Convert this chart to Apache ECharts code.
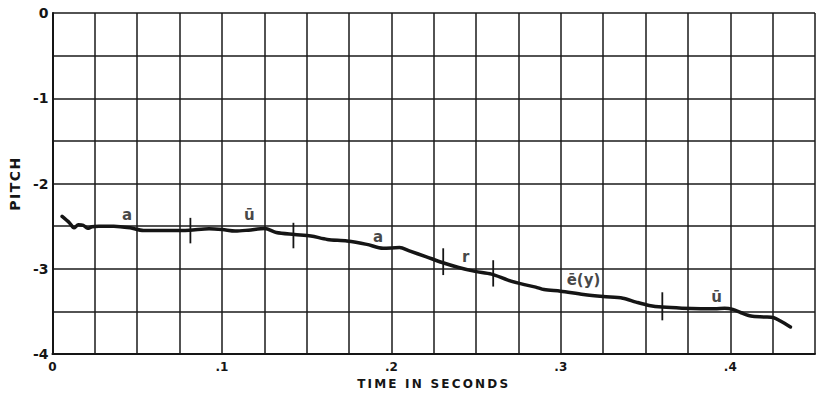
<!DOCTYPE html>
<html>
<head>
<meta charset="utf-8">
<script src="https://cdn.jsdelivr.net/npm/echarts@6/dist/echarts.min.js"></script>
<style>
  html, body { margin: 0; padding: 0; background: #fff; }
  #chart { width: 818px; height: 395px; }
</style>
</head>
<body>
<div id="chart"></div>
<script>
// Pitch contour (time in seconds, pitch level)
const times = [
  0.0057, 0.0101, 0.0127, 0.0153, 0.0182, 0.0208, 0.0234, 0.0275, 0.0362, 0.0459,
  0.0537, 0.0692, 0.0808, 0.0924, 0.1002, 0.1079, 0.1157, 0.1253, 0.1321, 0.1428,
  0.1525, 0.1622, 0.1738, 0.1855, 0.1951, 0.2048, 0.2106, 0.2203, 0.2300, 0.2397,
  0.2494, 0.2591, 0.2688, 0.2785, 0.2852, 0.2901, 0.2998, 0.3134, 0.3250, 0.3366,
  0.3444, 0.3521, 0.3599, 0.3715, 0.3909, 0.3967, 0.4015, 0.4064, 0.4122, 0.4199,
  0.4257, 0.4296, 0.4355
];
const pitches = [
  -2.386, -2.462, -2.520, -2.485, -2.491, -2.526, -2.508, -2.502, -2.500, -2.520,
  -2.551, -2.551, -2.547, -2.531, -2.540, -2.558, -2.547, -2.528, -2.575, -2.598,
  -2.616, -2.656, -2.674, -2.714, -2.760, -2.752, -2.791, -2.857, -2.927, -2.985,
  -3.031, -3.063, -3.133, -3.186, -3.215, -3.244, -3.264, -3.302, -3.326, -3.345,
  -3.391, -3.430, -3.450, -3.462, -3.470, -3.462, -3.477, -3.516, -3.555, -3.566,
  -3.574, -3.613, -3.683
];

// Segment boundaries: time, upper and lower ends of each stroke
const boundaryTimes   = [0.0814, 0.1422, 0.2306, 0.2601, 0.3599];
const boundaryTops    = [-2.403, -2.461, -2.760, -2.900, -3.276];
const boundaryBottoms = [-2.702, -2.760, -3.074, -3.209, -3.605];

// Phonetic labels placed along the contour
const phoneTexts   = ['a', 'ū', 'a', 'r', 'ē(y)', 'ū'];
const phoneTimes   = [0.0440, 0.1162, 0.1922, 0.2438, 0.3134, 0.3919];
const phonePitches = [-2.365, -2.369, -2.628, -2.857, -3.136, -3.334];

// Axis ticks
const timeLabels = ['0', '.1', '.2', '.3', '.4'];
const pitchLabels = ['0', '-1', '-2', '-3', '-4'];

const ink = '#151515';
const font = 'DejaVu Sans';

const chart = echarts.init(document.getElementById('chart'), null, { renderer: 'svg' });

chart.setOption({
  animation: false,
  backgroundColor: '#fff',
  grid: { left: 48, right: -4, top: 13, bottom: 38, containLabel: false },
  xAxis: {
    type: 'value',
    min: 0,
    max: 0.45,
    interval: 0.025,
    name: 'TIME IN SECONDS',
    nameLocation: 'middle',
    nameGap: 24,
    nameTextStyle: { fontFamily: font, fontSize: 12, fontWeight: 'bold', color: ink },
    axisLine: { show: true, onZero: false, lineStyle: { color: ink, width: 2 } },
    axisTick: { show: false },
    axisLabel: {
      interval: 0,
      margin: 7,
      fontFamily: font,
      fontSize: 12,
      fontWeight: 'bold',
      color: ink,
      formatter: function (v) {
        const k = Math.round(v / 0.1);
        if (Math.abs(v - k * 0.1) > 1e-6) return '';
        return timeLabels[k] !== undefined ? timeLabels[k] : '';
      }
    },
    splitLine: { show: true, lineStyle: { color: '#1a1a1a', width: 1.5 } }
  },
  yAxis: {
    type: 'value',
    min: -4,
    max: 0,
    interval: 0.5,
    name: 'PITCH',
    nameLocation: 'middle',
    nameRotate: 90,
    nameGap: 27,
    nameTextStyle: { fontFamily: font, fontSize: 14, fontWeight: 'bold', color: ink },
    axisLine: { show: true, onZero: false, lineStyle: { color: ink, width: 2 } },
    axisTick: { show: false },
    axisLabel: {
      interval: 0,
      margin: 4,
      fontFamily: font,
      fontSize: 14,
      fontWeight: 'bold',
      color: ink,
      formatter: function (v) {
        const k = Math.round(-v);
        if (Math.abs(v + k) > 1e-6) return '';
        return pitchLabels[k] !== undefined ? pitchLabels[k] : '';
      }
    },
    splitLine: { show: true, lineStyle: { color: '#1a1a1a', width: 1.5 } }
  },
  series: [
    {
      name: 'pitch',
      type: 'line',
      data: times.map((t, i) => [t, pitches[i]]),
      showSymbol: false,
      smooth: 0.3,
      lineStyle: { color: ink, width: 3.5, cap: 'round', join: 'round' },
      z: 5
    },
    {
      name: 'boundaries',
      type: 'custom',
      data: boundaryTimes.map((t, i) => [t, boundaryTops[i], boundaryBottoms[i]]),
      renderItem: function (params, api) {
        const a = api.coord([api.value(0), api.value(1)]);
        const b = api.coord([api.value(0), api.value(2)]);
        return {
          type: 'line',
          shape: { x1: a[0], y1: a[1], x2: b[0], y2: b[1] },
          style: { stroke: ink, lineWidth: 1.8 }
        };
      },
      z: 6
    },
    {
      name: 'phones',
      type: 'scatter',
      data: phoneTimes.map((t, i) => ({ value: [t, phonePitches[i]], name: phoneTexts[i] })),
      symbolSize: 0,
      label: {
        show: true,
        position: 'inside',
        formatter: '{b}',
        fontFamily: font,
        fontSize: 15,
        fontWeight: 'bold',
        color: ink
      },
      z: 7
    }
  ]
});

// Widen the tracking of the hand-lettered axis titles
function spaceTitles() {
  document.querySelectorAll('#chart text').forEach(function (el) {
    const s = el.textContent;
    if (s === 'TIME IN SECONDS') el.setAttribute('letter-spacing', '2.2');
    if (s === 'PITCH') el.setAttribute('letter-spacing', '1.5');
  });
}
chart.on('finished', spaceTitles);
spaceTitles();
</script>
</body>
</html>
